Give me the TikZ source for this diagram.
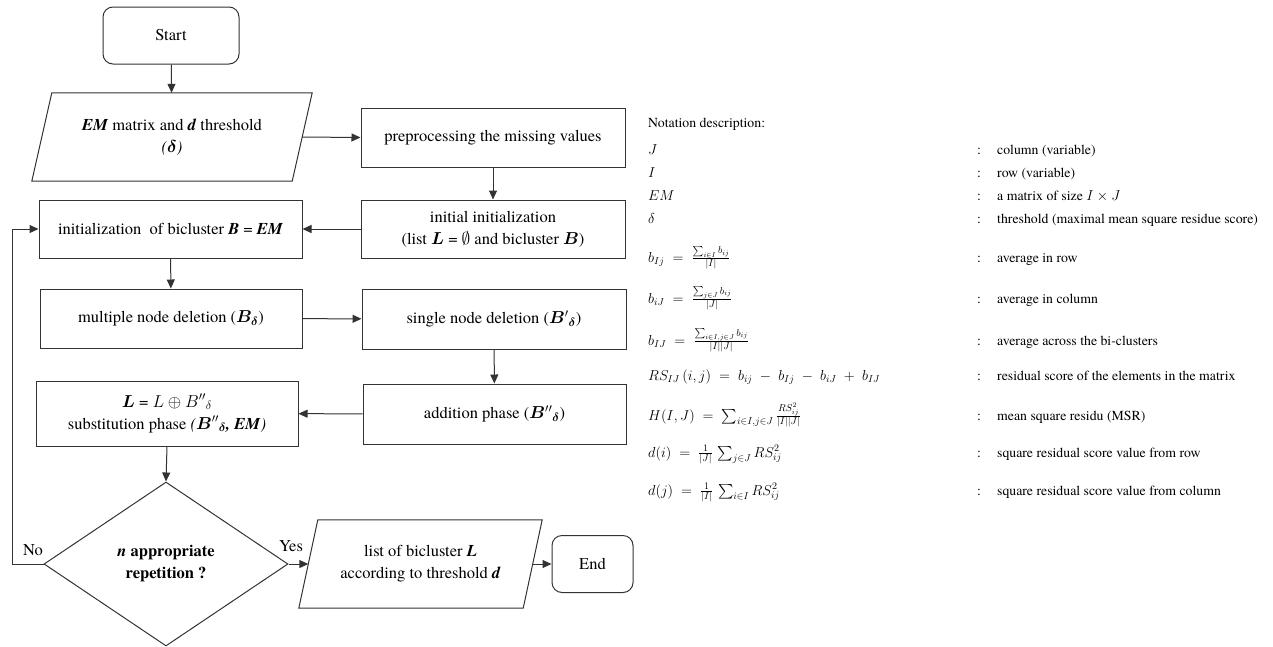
\documentclass[tikz,border=0pt]{standalone}
\usepackage{amsmath,amssymb}
\usepackage{fontspec}
\setmainfont{TeX Gyre Termes}
\usepackage{bm}
\usetikzlibrary{shapes.geometric,arrows.meta,calc}

\begin{document}
\begin{tikzpicture}[x=1pt,y=-1pt,
  every node/.style={font=\fontsize{16.5}{22}\selectfont},
  box/.style={draw=black!80, line width=1pt, align=center, inner sep=0pt},
  rbox/.style={box, rounded corners=10pt},
  slantbox/.style={align=center, inner sep=0pt},
  outline/.style={draw=black!80, line width=1pt},
  decision/.style={diamond, draw=black!80, line width=1pt, align=center,
    inner sep=0pt, minimum width=244pt, minimum height=164pt},
  flow/.style={draw=black!80, line width=1pt, -{Triangle[length=9pt,width=8pt]}},
  lbl/.style={inner sep=0pt},
  note/.style={font=\fontsize{13.8}{16}\selectfont, anchor=base west, inner sep=0pt},
  sym/.style={note, font=\fontsize{14.6}{17}\selectfont},
]
\useasboundingbox (0,0) rectangle (1273,646);

% ---------- flowchart ----------
\node[rbox, minimum width=136pt, minimum height=57pt] (start) at (171,35.5) {Start};

\node[slantbox, minimum width=260pt, minimum height=88pt] (em) at (172,137)
  {\textbf{\textit{EM}} matrix and \textbf{\textit{d}} threshold\\ \textit{(}$\bm{\delta}$\textit{)}};
\draw[outline] ([xshift=10pt]em.north west) -- ([xshift=10pt]em.north east)
  -- ([xshift=-10pt]em.south east) -- ([xshift=-10pt]em.south west) -- cycle;

\node[box, minimum width=264pt, minimum height=59pt] (pre) at (493,137.5)
  {preprocessing the missing values};
\node[box, minimum width=264pt, minimum height=58pt] (ini) at (493,229)
  {initial initialization\\(list $\bm{L}$ = $\emptyset$ and bicluster $\bm{B}$)};
\node[box, minimum width=263pt, minimum height=58pt] (bic) at (170.5,229)
  {initialization\ \ of bicluster \textbf{\textit{B}} = \textbf{\textit{EM}}};
\node[box, minimum width=262pt, minimum height=59pt] (mul) at (171,318.5)
  {multiple node deletion ($\bm{B_{\delta}}$)};
\node[box, minimum width=264pt, minimum height=60pt] (sin) at (494,319)
  {single node deletion (${\bm{B}'}_{\bm{\delta}}$)};
\node[box, minimum width=263pt, minimum height=60pt] (add) at (494.5,414)
  {addition phase (${\bm{B}''}_{\bm{\delta}}$)};
\node[box, minimum width=262pt, minimum height=65pt] (sub) at (167,413.5)
  {$\bm{L}$ = $L \oplus {B''}_{\delta}$\\substitution phase \textit{(}${\bm{B}''}_{\bm{\delta}}$\textbf{\textit{, EM}}\textit{)}};

\node[decision] (dec) at (166,564)
  {\textbf{\textit{n}} \textbf{appropriate}\\\textbf{repetition ?}};

\node[slantbox, minimum width=224pt, minimum height=88pt] (lst) at (420.5,564)
  {list of bicluster \textbf{\textit{L}}\\according to threshold \textbf{\textit{d}}};
\draw[outline] ([xshift=9.5pt]lst.north west) -- ([xshift=9.5pt]lst.north east)
  -- ([xshift=-9.5pt]lst.south east) -- ([xshift=-9.5pt]lst.south west) -- cycle;

\node[rbox, minimum width=81pt, minimum height=57pt] (fin) at (592.5,564) {End};

\coordinate (back) at (12,564);

\draw[flow] (start) -- (em);
\draw[flow] (em.east) -- (pre.west);
\draw[flow] (pre) -- (ini);
\draw[flow] (ini) -- (bic);
\draw[flow] (bic) -- (mul);
\draw[flow] (mul) -- (sin);
\draw[flow] (sin) -- (add);
\draw[flow] (add) -- (sub);
\draw[flow] (sub.south) -- (dec.north);
\draw[flow] (dec.east) -- (lst.west);
\draw[flow] (lst.east) -- (fin.west);
\draw[flow] (dec.west) -- (back) |- (bic.west);

\node[lbl] (no) at (33,550) {No};
\node[lbl] (yes) at (291,546) {Yes};

% ---------- notation list ----------
\node[note] (nt) at (648,127) {Notation description:};

\node[sym] (s1) at (648,154) {$J$};
\node[note] (k1) at (977,154) {:};
\node[note] (t1) at (997,154) {column (variable)};

\node[sym] (s2) at (648,177) {$I$};
\node[note] (k2) at (977,177) {:};
\node[note] (t2) at (997,177) {row (variable)};

\node[sym] (s3) at (648,200) {$EM$};
\node[note] (k3) at (977,200) {:};
\node[note] (t3) at (997,200) {a matrix of size $I \times J$};

\node[sym] (s4) at (648,223) {$\delta$};
\node[note] (k4) at (977,223) {:};
\node[note] (t4) at (997,223) {threshold (maximal mean square residue score)};

\node[sym] (s5) at (648,262) {$b_{Ij} \;=\; \frac{\sum_{i\in I} b_{ij}}{|I|}$};
\node[note] (k5) at (977,262) {:};
\node[note] (t5) at (997,262) {average in row};

\node[sym] (s6) at (648,303) {$b_{iJ} \;=\; \frac{\sum_{j\in J} b_{ij}}{|J|}$};
\node[note] (k6) at (977,303) {:};
\node[note] (t6) at (997,303) {average in column};

\node[sym] (s7) at (648,345) {$b_{IJ} \;=\; \frac{\sum_{i\in I, j\in J} b_{ij}}{|I||J|}$};
\node[note] (k7) at (977,345) {:};
\node[note] (t7) at (997,345) {average across the bi-clusters};

\node[sym] (s8) at (648,380) {$RS_{IJ}\,(i,j) \;=\; b_{ij} \;-\; b_{Ij} \;-\; b_{iJ} \;+\; b_{IJ}$};
\node[note] (k8) at (977,380) {:};
\node[note] (t8) at (997,380) {residual score of the elements in the matrix};

\node[sym] (s9) at (648,420) {$H(I,J) \;=\; \sum_{i\in I, j\in J} \frac{RS_{ij}^2}{|I||J|}$};
\node[note] (k9) at (977,420) {:};
\node[note] (t9) at (997,420) {mean square residu (MSR)};

\node[sym] (s10) at (648,457) {$d(i) \;=\; \frac{1}{|J|}\, \sum_{j\in J} RS_{ij}^2$};
\node[note] (k10) at (977,457) {:};
\node[note] (t10) at (997,457) {square residual score value from row};

\node[sym] (s11) at (648,495) {$d(j) \;=\; \frac{1}{|I|}\, \sum_{i\in I} RS_{ij}^2$};
\node[note] (k11) at (977,495) {:};
\node[note] (t11) at (997,495) {square residual score value from column};
\end{tikzpicture}
\end{document}
